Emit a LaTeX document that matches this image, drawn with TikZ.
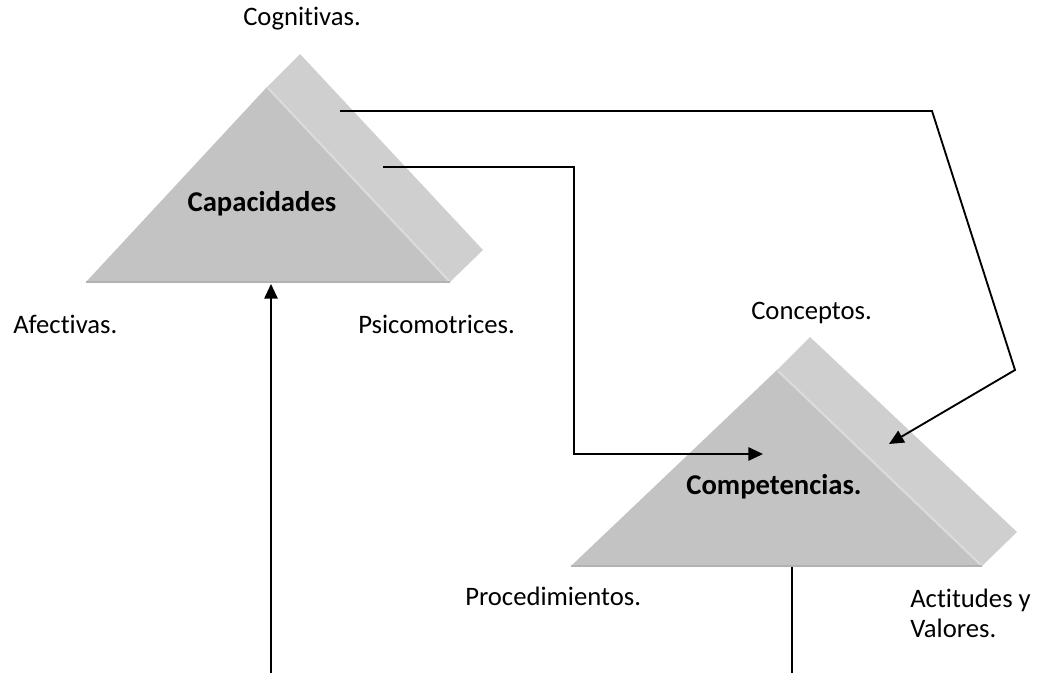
\documentclass[tikz,border=0pt]{standalone}
\usepackage{fontspec}
\setmainfont{Carlito}[Ligatures=NoCommon]
\usetikzlibrary{arrows.meta}
\definecolor{facegray}{HTML}{C3C3C3}
\definecolor{sidegray}{HTML}{CFCFCF}
\definecolor{ridgegray}{HTML}{DCDCDC}
\definecolor{edgegray}{HTML}{B2B2B2}
\begin{document}
\begin{tikzpicture}[x=0.75pt,y=-0.75pt,
    word/.style={anchor=base west,inner sep=0pt,font=\fontsize{20}{24}\selectfont},
    heading/.style={anchor=base,inner sep=0pt,font=\fontsize{21.5}{26}\selectfont\bfseries},
    frontface/.style={fill=facegray},
    sideface/.style={fill=sidegray},
    ridgeline/.style={draw=ridgegray,line width=1.5pt},
    baseedge/.style={draw=edgegray,line width=2pt},
    link/.style={line width=1.4pt},
    tip/.style={-{Triangle[length=11pt,width=10pt]}}]
  \useasboundingbox (0,0) rectangle (1048,673);

  % Capacidades
  \fill[sideface] (267,87) -- (300,54) -- (483,250) -- (450,282) -- cycle;
  \fill[frontface] (267,87) -- (450,282) -- (86,282) -- cycle;
  \draw[ridgeline] (268,88) -- (450,282);
  \draw[baseedge] (86,282) -- (450,282);
  \node (capacidades) [heading] at (262,212) {Capacidades};

  % Competencias
  \fill[sideface] (777,370) -- (810,337) -- (1017,532) -- (982,566) -- cycle;
  \fill[frontface] (777,370) -- (982,566) -- (571,566) -- cycle;
  \draw[ridgeline] (778,371) -- (982,566);
  \draw[baseedge] (571,566) -- (982,566);
  \node (competencias) [heading] at (774,494) {Competencias.};

  % vertices
  \node (cognitivas) [word] at (243,26) {Cognitivas.};
  \node (afectivas) [word] at (13,333) {Afectivas.};
  \node (psicomotrices) [word] at (358,333) {Psicomotrices.};
  \node (conceptos) [word] at (751,320) {Conceptos.};
  \node (procedimientos) [word] at (465,605) {Procedimientos.};
  \node (actitudes) [word] at (910,607) {Actitudes y};
  \node (valores) [word] at (910,637) {Valores.};

  % connectors
  \coordinate (cogout) at (340,111);
  \coordinate (bendA) at (932,111);
  \coordinate (bendB) at (1015,370);
  \coordinate (concin) at (889,444);
  \coordinate (psiout) at (383,167);
  \coordinate (bendC) at (574,454);
  \coordinate (procin) at (763,454);
  \coordinate (capfoot) at (271,673);
  \coordinate (capin) at (271,284);
  \coordinate (compout) at (792,567);
  \coordinate (compfoot) at (792,673);

  \draw[link,tip] (cogout) -- (bendA) -- (bendB) -- (concin);
  \draw[link,tip] (psiout) -| (bendC) -- (procin);
  \draw[link,tip] (capfoot) -- (capin);
  \draw[link] (compout) -- (compfoot);
\end{tikzpicture}
\end{document}
